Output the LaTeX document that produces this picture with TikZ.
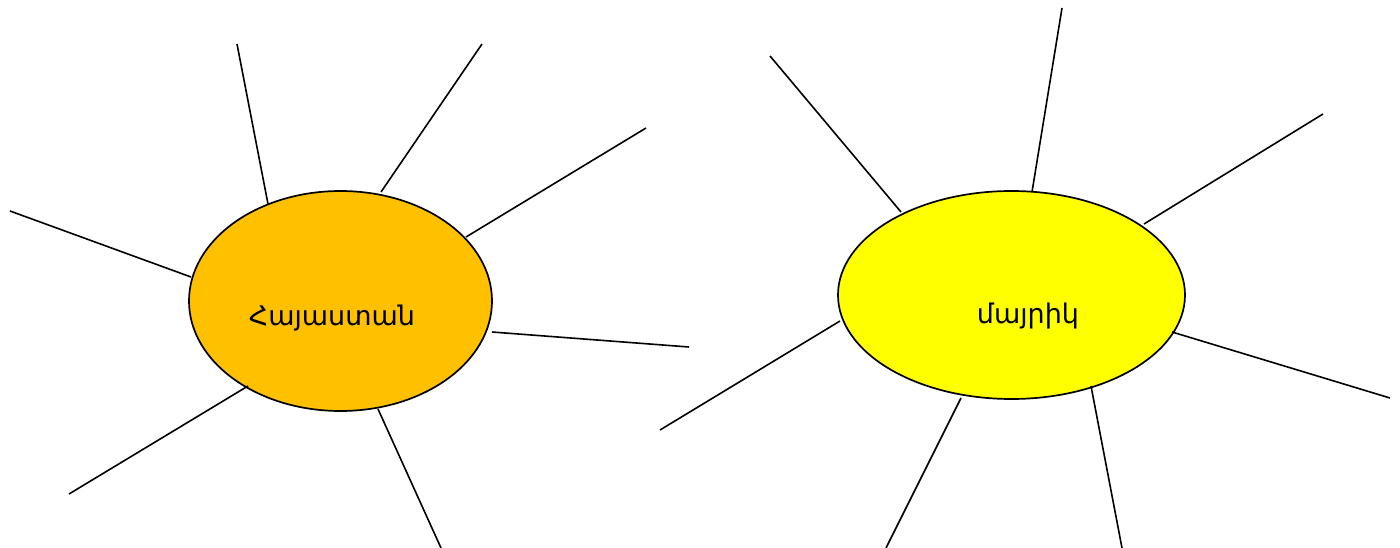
\documentclass[tikz,border=0pt]{standalone}
\usepackage{fontspec}
\setmainfont{DejaVu Sans}
\usetikzlibrary{shapes.geometric}
\definecolor{orangefill}{HTML}{FFC000}
\definecolor{yellowfill}{HTML}{FFFF00}
\begin{document}
\begin{tikzpicture}[x=1pt,y=-1pt,
  ray/.style={draw=black,line width=1.6pt},
  blob/.style={draw=black,line width=1.7pt}]
\useasboundingbox (0,0) rectangle (1400,548);
% ellipses
\path[blob,fill=orangefill] (340.5,301) ellipse [x radius=151.5,y radius=110];
\path[blob,fill=yellowfill] (1011.5,295) ellipse [x radius=173.5,y radius=104];
\node[font=\fontsize{27}{32}\selectfont,inner sep=0] (hay) at (332,318) {Հայաստան};
\node[font=\fontsize{27}{32}\selectfont,inner sep=0] (may) at (1028,316) {մայրիկ};
% left rays
\coordinate (l1o) at (237,44);  \coordinate (l1i) at (268,204);
\coordinate (l2o) at (482,44);  \coordinate (l2i) at (381,192);
\coordinate (l3o) at (646,128); \coordinate (l3i) at (466,237);
\coordinate (l4o) at (10,211);  \coordinate (l4i) at (191,277);
\coordinate (l5o) at (689,347); \coordinate (l5i) at (492,332);
\coordinate (l6o) at (69,494);  \coordinate (l6i) at (248,386);
\coordinate (l7o) at (441,548); \coordinate (l7i) at (378,409);
\foreach \i in {1,...,7} \draw[ray] (l\i o) -- (l\i i);
% right rays
\coordinate (r1o) at (770,56);   \coordinate (r1i) at (901,212);
\coordinate (r2o) at (1062,8);   \coordinate (r2i) at (1032,192);
\coordinate (r3o) at (1323,114); \coordinate (r3i) at (1144,224);
\coordinate (r4o) at (660,430);  \coordinate (r4i) at (840,321);
\coordinate (r5o) at (1390,398); \coordinate (r5i) at (1172,332);
\coordinate (r6o) at (886,548);  \coordinate (r6i) at (961,398);
\coordinate (r7o) at (1122,548); \coordinate (r7i) at (1091,386);
\foreach \i in {1,...,7} \draw[ray] (r\i o) -- (r\i i);
\end{tikzpicture}
\end{document}
